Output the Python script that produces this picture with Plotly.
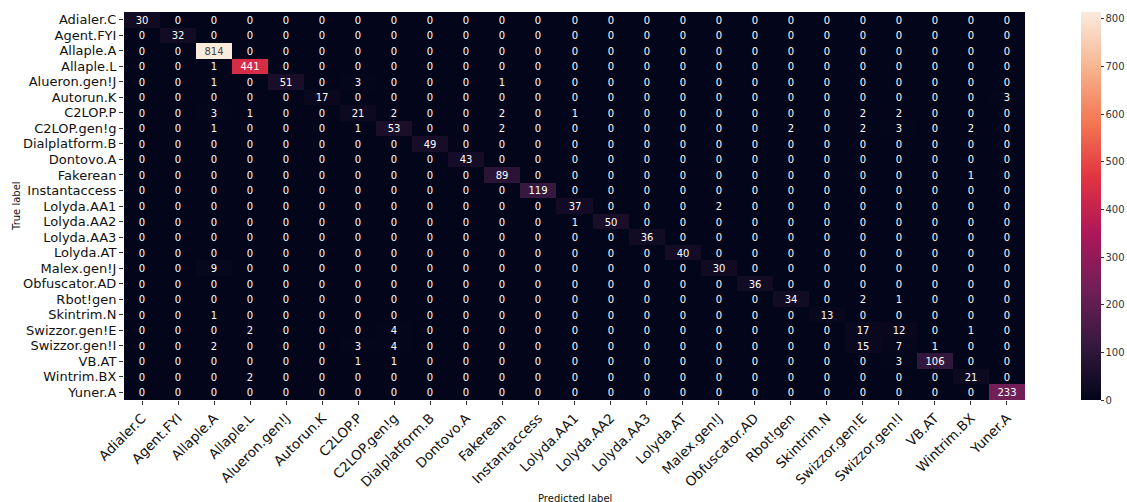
import numpy as np
import plotly.graph_objects as go

labels = [
    "Adialer.C", "Agent.FYI", "Allaple.A", "Allaple.L", "Alueron.gen!J",
    "Autorun.K", "C2LOP.P", "C2LOP.gen!g", "Dialplatform.B", "Dontovo.A",
    "Fakerean", "Instantaccess", "Lolyda.AA1", "Lolyda.AA2", "Lolyda.AA3",
    "Lolyda.AT", "Malex.gen!J", "Obfuscator.AD", "Rbot!gen", "Skintrim.N",
    "Swizzor.gen!E", "Swizzor.gen!I", "VB.AT", "Wintrim.BX", "Yuner.A",
]

# Diagonal (correct predictions) per class
diagonal = [30, 32, 814, 441, 51, 17, 21, 53, 49, 43, 89, 119, 37, 50, 36,
            40, 30, 36, 34, 13, 17, 7, 106, 21, 233]

# Off-diagonal confusions: (true label, predicted label, count)
confusions = [
    ("Allaple.L", "Allaple.A", 1),
    ("Alueron.gen!J", "Allaple.A", 1),
    ("Alueron.gen!J", "C2LOP.P", 3),
    ("Alueron.gen!J", "Fakerean", 1),
    ("Autorun.K", "Yuner.A", 3),
    ("C2LOP.P", "Allaple.A", 3),
    ("C2LOP.P", "Allaple.L", 1),
    ("C2LOP.P", "C2LOP.gen!g", 2),
    ("C2LOP.P", "Fakerean", 2),
    ("C2LOP.P", "Lolyda.AA1", 1),
    ("C2LOP.P", "Swizzor.gen!E", 2),
    ("C2LOP.P", "Swizzor.gen!I", 2),
    ("C2LOP.gen!g", "Allaple.A", 1),
    ("C2LOP.gen!g", "C2LOP.P", 1),
    ("C2LOP.gen!g", "Fakerean", 2),
    ("C2LOP.gen!g", "Rbot!gen", 2),
    ("C2LOP.gen!g", "Swizzor.gen!E", 2),
    ("C2LOP.gen!g", "Swizzor.gen!I", 3),
    ("C2LOP.gen!g", "Wintrim.BX", 2),
    ("Fakerean", "Wintrim.BX", 1),
    ("Lolyda.AA1", "Malex.gen!J", 2),
    ("Lolyda.AA2", "Lolyda.AA1", 1),
    ("Malex.gen!J", "Allaple.A", 9),
    ("Rbot!gen", "Swizzor.gen!E", 2),
    ("Rbot!gen", "Swizzor.gen!I", 1),
    ("Skintrim.N", "Allaple.A", 1),
    ("Swizzor.gen!E", "Allaple.L", 2),
    ("Swizzor.gen!E", "C2LOP.gen!g", 4),
    ("Swizzor.gen!E", "Swizzor.gen!I", 12),
    ("Swizzor.gen!E", "Wintrim.BX", 1),
    ("Swizzor.gen!I", "Allaple.A", 2),
    ("Swizzor.gen!I", "C2LOP.P", 3),
    ("Swizzor.gen!I", "C2LOP.gen!g", 4),
    ("Swizzor.gen!I", "Swizzor.gen!E", 15),
    ("Swizzor.gen!I", "VB.AT", 1),
    ("VB.AT", "C2LOP.P", 1),
    ("VB.AT", "C2LOP.gen!g", 1),
    ("VB.AT", "Swizzor.gen!I", 3),
    ("Wintrim.BX", "Allaple.L", 2),
]

colorbar_ticks = [0, 100, 200, 300, 400, 500, 600, 700, 800]

n = len(labels)
idx = {name: i for i, name in enumerate(labels)}
matrix = np.zeros((n, n), dtype=int)
for i, v in enumerate(diagonal):
    matrix[i, i] = v
for t, p, c in confusions:
    matrix[idx[t], idx[p]] = c

rocket = [
    [0.0, "#03051a"],
    [1 / 7, "#35193e"],
    [2 / 7, "#701f57"],
    [3 / 7, "#ad1759"],
    [4 / 7, "#e13342"],
    [5 / 7, "#f37651"],
    [6 / 7, "#f6b48f"],
    [1.0, "#faebdd"],
]

font_family = "DejaVu Sans"

# Layout geometry (pixels)
W, H = 1127, 502
ML, MR, MT, MB = 124, 2, 12, 102
paper_w = W - ML - MR
heat_w = 901
cbar_left = 1081

fig = go.Figure(
    go.Heatmap(
        z=matrix,
        x=labels,
        y=labels,
        colorscale=rocket,
        zmin=0,
        zmax=int(matrix.max()),
        text=matrix,
        texttemplate="%{text}",
        textfont=dict(family=font_family, size=10),
        colorbar=dict(
            x=(cbar_left - ML) / paper_w,
            xanchor="left",
            xpad=0,
            y=0,
            yanchor="bottom",
            ypad=0,
            len=1,
            lenmode="fraction",
            thickness=20,
            outlinewidth=0,
            tickvals=colorbar_ticks,
            ticks="outside",
            ticklen=3,
            tickcolor="#333333",
            tickfont=dict(family=font_family, size=10, color="#333333"),
        ),
    )
)

fig.update_layout(
    width=W,
    height=H,
    margin=dict(l=ML, r=MR, t=MT, b=MB),
    paper_bgcolor="white",
    plot_bgcolor="white",
    font=dict(family=font_family),
    xaxis=dict(
        domain=[0, heat_w / paper_w],
        tickmode="array",
        tickvals=labels,
        ticktext=labels,
        tickangle=-45,
        ticks="outside",
        ticklen=4,
        tickcolor="#333333",
        tickfont=dict(family=font_family, size=13.5, color="#111111"),
        showgrid=False,
        zeroline=False,
        automargin=False,
    ),
    yaxis=dict(
        autorange="reversed",
        tickmode="array",
        tickvals=labels,
        ticktext=labels,
        ticks="outside",
        ticklen=4,
        tickcolor="#333333",
        tickfont=dict(family=font_family, size=13, color="#111111"),
        showgrid=False,
        zeroline=False,
        automargin=False,
    ),
    annotations=[
        dict(
            text="Predicted label",
            xref="x domain", yref="paper",
            x=0.5, y=0, yshift=-98,
            xanchor="center", yanchor="middle",
            showarrow=False,
            font=dict(family=font_family, size=10, color="#111111"),
        ),
        dict(
            text="True label",
            xref="paper", yref="paper",
            x=0, xshift=-108, y=0.5,
            xanchor="center", yanchor="middle",
            textangle=-90,
            showarrow=False,
            font=dict(family=font_family, size=10, color="#111111"),
        ),
    ],
)

fig.write_html("out.html")
